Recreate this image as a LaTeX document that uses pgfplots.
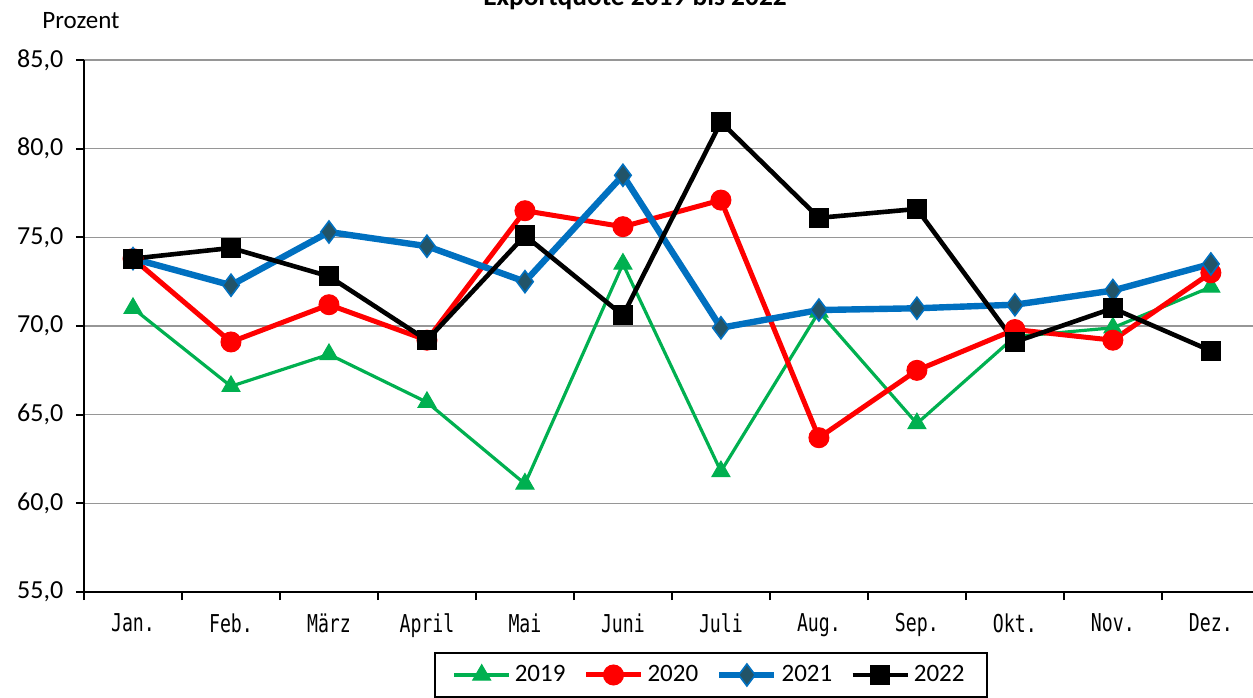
\documentclass[border=0pt]{standalone}
\usepackage{pgfplots}
\pgfplotsset{compat=1.18}
\usepackage{graphicx}
\usepackage{fontspec}
\setmainfont{Carlito}
\newfontfamily\monofont{DejaVu Sans Mono}
\newcommand\ml[1]{\scalebox{0.74}[1]{#1}}
\definecolor{cgreen}{RGB}{0,176,80}
\definecolor{cred}{RGB}{255,0,0}
\definecolor{cblue}{RGB}{0,112,192}
\definecolor{cdia}{RGB}{34,84,104}
\definecolor{cgrid}{RGB}{150,150,150}
\begin{document}
\fontsize{12.5}{14}\selectfont
\begin{tikzpicture}
\begin{axis}[
  at={(42pt,52.5pt)}, anchor=south west,
  scale only axis, width=584.5pt, height=266pt,
  xmin=0.5, xmax=12.43, ymin=55, ymax=85,
  clip=false,
  axis x line=bottom, axis y line=left,
  axis line style={-, line width=1pt, black},
  ytick={55,60,...,85},
  ymajorgrids, grid style={cgrid, line width=0.6pt},
  ytick align=outside, major tick length=4pt,
  ytick style={black, line width=1pt},
  yticklabel style={/pgf/number format/fixed, /pgf/number format/fixed zerofill, /pgf/number format/precision=1, /pgf/number format/use comma, /pgf/number format/assume math mode=true, xshift=-2pt, font=\fontsize{13}{15}\selectfont},
  xtick={1,...,12},
  xticklabels={\ml{Jan.},\ml{Feb.},\ml{März},\ml{April},\ml{Mai},\ml{Juni},\ml{Juli},\ml{Aug.},\ml{Sep.},\ml{Okt.},\ml{Nov.},\ml{Dez.}},
  xticklabel style={font=\monofont\fontsize{12.3}{14}\selectfont, yshift=-2.5pt},
  major x tick style={draw=none},
  minor xtick={0.5,1.5,...,12.5},
  xtick align=outside, minor tick length=4pt,
  minor x tick style={black, line width=1pt},
  legend columns=4,
  legend style={at={(axis description cs:0.536,-0.1128)}, anchor=north, draw=black, line width=1pt, inner xsep=9pt, inner ysep=4pt,
    /tikz/every even column/.append style={column sep=7pt}, /tikz/every odd column/.append style={column sep=0pt},
    nodes={inner xsep=2pt}},
  legend image code/.code={\draw[mark repeat=2,mark phase=2] plot coordinates {(0pt,0pt)(13.75pt,0pt)(27.5pt,0pt)};},
]
\addplot[cgreen, line width=1.6pt, mark=triangle*, mark size=5.2pt, mark options={solid, fill=cgreen, draw=cgreen, line width=0.5pt}] coordinates {
(1,71.0)(2,66.6)(3,68.4)(4,65.7)(5,61.1)(6,73.5)(7,61.8)(8,70.8)(9,64.5)(10,69.4)(11,69.9)(12,72.2)};
\addlegendentry{2019}
\addplot[cred, line width=2.5pt, mark=*, mark size=5pt, mark options={solid, fill=cred, draw=cred, line width=0.5pt}] coordinates {
(1,73.8)(2,69.1)(3,71.2)(4,69.2)(5,76.5)(6,75.6)(7,77.1)(8,63.7)(9,67.5)(10,69.8)(11,69.2)(12,73.0)};
\addlegendentry{2020}
\addplot[cblue, line width=3.2pt, mark=diamond*, mark size=5.5pt, mark options={solid, fill=cdia, draw=cblue, line width=0.8pt}] coordinates {
(1,73.8)(2,72.3)(3,75.3)(4,74.5)(5,72.5)(6,78.5)(7,69.9)(8,70.9)(9,71.0)(10,71.2)(11,72.0)(12,73.5)};
\addlegendentry{2021}
\addplot[black, line width=2.3pt, mark=square*, mark size=4.8pt, mark options={solid, fill=black, draw=black, line width=0.5pt}] coordinates {
(1,73.8)(2,74.4)(3,72.8)(4,69.2)(5,75.1)(6,70.6)(7,81.5)(8,76.1)(9,76.6)(10,69.1)(11,71.0)(12,68.6)};
\addlegendentry{2022}
\end{axis}
\node[anchor=base, inner sep=0pt, font=\bfseries\fontsize{13.7}{15}\selectfont] at (317.5pt,345.5pt) {Exportquote 2019 bis 2022};
\node[anchor=base west, inner sep=0pt] at (21pt,334pt) {Prozent};
\pgfresetboundingbox
\path[use as bounding box] (0,0) rectangle (626.5pt,348.5pt);
\end{tikzpicture}
\end{document}
